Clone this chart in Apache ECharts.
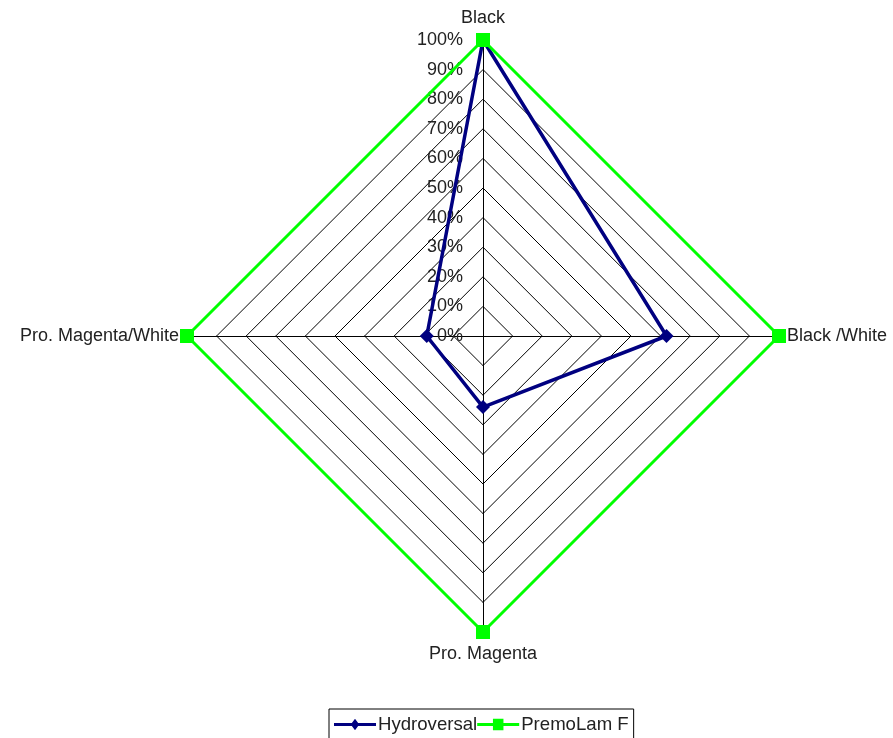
<!DOCTYPE html>
<html>
<head>
<meta charset="utf-8">
<script src="https://cdn.jsdelivr.net/npm/echarts@6/dist/echarts.min.js"></script>
<style>html,body{margin:0;padding:0;background:#fff}#c{width:893px;height:738px}</style>
</head>
<body>
<div id="c"></div>
<script>
// categories in clockwise order from top
var categories = ['Black', 'Black /White', 'Pro. Magenta', 'Pro. Magenta/White'];
var hydroversal = [100, 62, 24, 19];
var premoLam = [100, 100, 100, 100];
var seriesNames = ['Hydroversal', 'PremoLam F'];
var tickMax = 100, tickStep = 10;

// ECharts radar places indicators counter-clockwise; reorder to match
function ccw(arr) { return [arr[0]].concat(arr.slice(1).reverse()); }

var chart = echarts.init(document.getElementById('c'));
var font = 'Liberation Sans, Arial, sans-serif';
var indicators = ccw(categories).map(function (n, i) {
  var o = { name: n, min: 0, max: tickMax, nameGap: (i % 2 === 0) ? 13 : 8 };
  if (i === 0) o.axisLabel = { show: true };
  return o;
});
chart.setOption({
  animation: false,
  legend: {
    bottom: -6,
    left: 329,
    data: [
      { name: seriesNames[0], icon: 'path://M0,9 L17,9 L20,5 L23,9 L40,9 L40,12 L23,12 L20,16 L17,12 L0,12 Z' },
      { name: seriesNames[1], icon: 'path://M0,9 L15,9 L15,5 L25,5 L25,9 L40,9 L40,12 L25,12 L25,16 L15,16 L15,12 L0,12 Z' }
    ],
    itemWidth: 42,
    itemHeight: 12,
    itemGap: 0,
    borderColor: '#000',
    borderWidth: 1,
    borderRadius: 0,
    padding: [6, 5, 10, 5],
    textStyle: { fontFamily: font, fontSize: 18.6, color: '#222', padding: [0, 0, 0, -3] }
  },
  radar: {
    center: [483, 336],
    radius: 296,
    startAngle: 90,
    shape: 'polygon',
    splitNumber: tickMax / tickStep,
    indicator: indicators,
    axisName: { color: '#222', fontFamily: font, fontSize: 18 },
    axisLine: { lineStyle: { color: '#000', width: 1 } },
    splitLine: { lineStyle: { color: '#000', width: 1 } },
    splitArea: { show: false },
    axisTick: { show: false },
    axisLabel: {
      show: false,
      formatter: '{value}%',
      color: '#222',
      fontFamily: font,
      fontSize: 18,
      margin: 20,
      padding: [5, 0, 0, 0]
    }
  },
  series: [{
    type: 'radar',
    z: 3,
    data: [
      {
        name: seriesNames[0],
        value: ccw(hydroversal),
        symbol: 'diamond',
        symbolSize: 14,
        lineStyle: { color: '#000080', width: 3.5 },
        itemStyle: { color: '#000080' }
      },
      {
        name: seriesNames[1],
        value: ccw(premoLam),
        symbol: 'rect',
        symbolSize: 14,
        lineStyle: { color: '#00FF00', width: 3 },
        itemStyle: { color: '#00FF00' }
      }
    ]
  }]
});
</script>
</body>
</html>
